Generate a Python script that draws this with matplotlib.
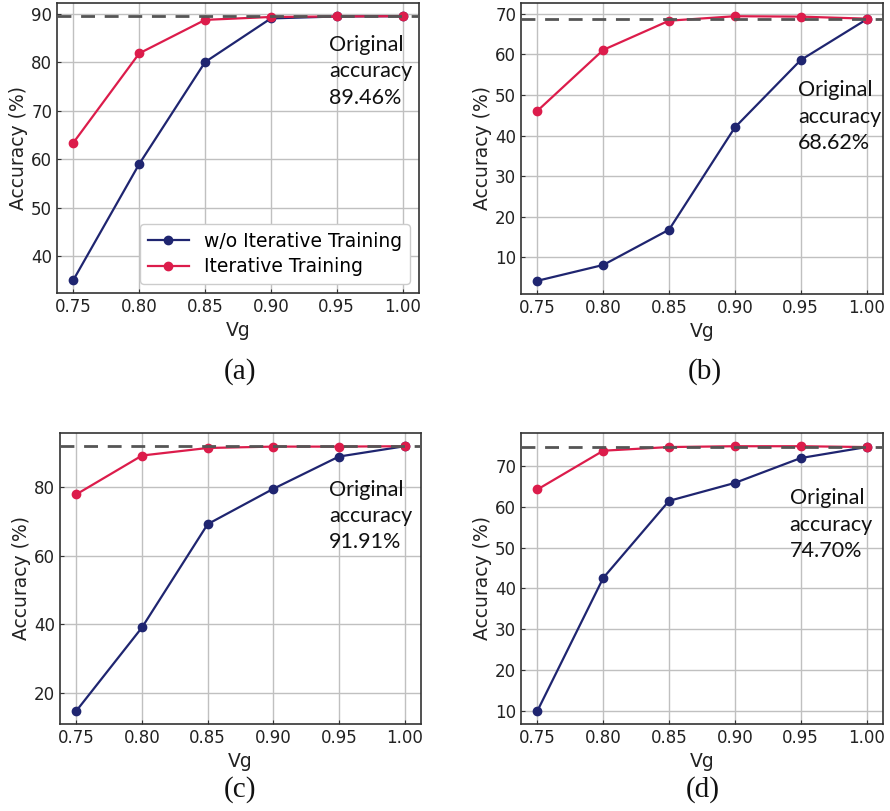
import matplotlib.pyplot as plt

# Gate voltages
vg = [0.75, 0.80, 0.85, 0.90, 0.95, 1.00]

# (a)
orig_a = 89.46
wo_a = [35.1, 59.0, 80.0, 89.0, 89.4, 89.46]
it_a = [63.4, 81.8, 88.7, 89.3, 89.4, 89.46]

# (b)
orig_b = 68.62
wo_b = [4.2, 8.1, 16.8, 42.0, 58.6, 68.62]
it_b = [46.1, 61.1, 68.3, 69.4, 69.3, 68.8]

# (c)
orig_c = 91.91
wo_c = [14.8, 39.1, 69.2, 79.5, 88.9, 91.91]
it_c = [77.9, 89.2, 91.4, 91.8, 91.8, 91.91]

# (d)
orig_d = 74.70
wo_d = [10.0, 42.6, 61.5, 65.9, 72.0, 74.70]
it_d = [64.3, 73.8, 74.7, 74.9, 74.9, 74.70]

panels = [
    ('(a)', wo_a, it_a, orig_a, [40, 50, 60, 70, 80, 90]),
    ('(b)', wo_b, it_b, orig_b, [10, 20, 30, 40, 50, 60, 70]),
    ('(c)', wo_c, it_c, orig_c, [20, 40, 60, 80]),
    ('(d)', wo_d, it_d, orig_d, [10, 20, 30, 40, 50, 60, 70]),
]

W, H = 890, 811
# axes boxes in pixels: left, top, right, bottom
boxes = [(57, 3, 419, 293), (521, 3, 883, 294),
         (60, 433, 421, 724), (521, 433, 883, 724)]
text_pos = [(0.751, 0.89), (0.766, 0.735), (0.745, 0.84), (0.742, 0.81)]
label_pos = [(240, 372), (705, 372), (240, 790), (703, 790)]

navy = '#1f2570'
crimson = '#dc1c4b'

fig = plt.figure(figsize=(W / 100, H / 100), dpi=100)

for i, (lab, wo, it, orig, yt) in enumerate(panels):
    l, t, r, b = boxes[i]
    ax = fig.add_axes([l / W, 1 - b / H, (r - l) / W, (b - t) / H])
    ax.plot(vg, wo, '-o', color=navy, lw=1.6, ms=6, label='w/o Iterative Training', zorder=3)
    ax.plot(vg, it, '-o', color=crimson, lw=1.6, ms=6, label='Iterative Training', zorder=4)
    ax.axhline(orig, color='#555555', lw=2.0, dashes=(5, 3.5), zorder=5)
    ax.set_xticks(vg)
    ax.set_xticklabels(['0.75', '0.80', '0.85', '0.90', '0.95', '1.00'])
    ax.set_yticks(yt)
    ax.tick_params(direction='in', labelsize=12, labelcolor='#222222', color='#333333', length=3)
    ax.grid(True, color='#c0c0c0', lw=1.0)
    ax.set_axisbelow(True)
    for s in ax.spines.values():
        s.set_color('#333333')
        s.set_linewidth(1.2)
    ax.set_xlabel('Vg', fontsize=13.5, color='#222222', labelpad=4)
    ax.set_ylabel('Accuracy (%)', fontsize=13.5, color='#222222', labelpad=2)
    tx, ty = text_pos[i]
    ax.text(tx, ty, 'Original\naccuracy\n%.2f%%' % orig, transform=ax.transAxes,
            ha='left', va='top', fontsize=15.5, family='Lato', color='#111111',
            linespacing=1.4)
    if i == 0:
        ax.legend(loc='lower right', fontsize=13.5, framealpha=1, edgecolor='#cccccc',
                  handlelength=2.2, borderpad=0.4, labelspacing=0.35)
    lx, ly = label_pos[i]
    fig.text(lx / W, 1 - ly / H, lab, ha='center', va='center', fontsize=21,
             family='Liberation Serif', color='#111111')

fig.savefig('out.png', dpi=100)
